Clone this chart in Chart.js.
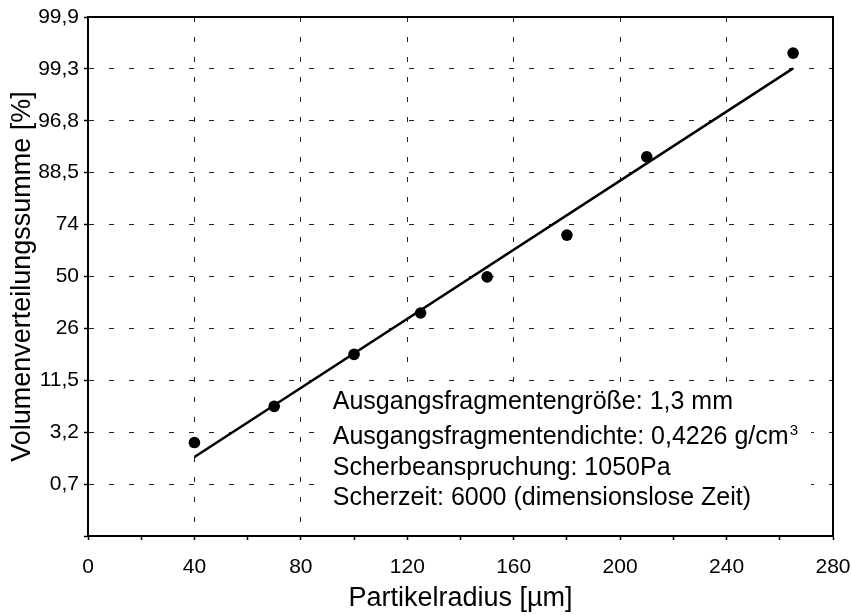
<!DOCTYPE html>
<html>
<head>
<meta charset="utf-8">
<script src="https://cdn.jsdelivr.net/npm/chart.js@4"></script>
<style>
  html, body { margin: 0; padding: 0; background: #fff; }
  #chart { display: block; }
</style>
</head>
<body>
<canvas id="chart" width="852" height="615"></canvas>
<script>
// ---------------- Data ----------------
const radius = [40, 70, 100, 125, 150, 180, 210, 265];              // Partikelradius [µm]
const volSum = [2.4, 6.1, 17.7, 33.2, 49.8, 68.9, 92.3, 99.61];     // Volumenverteilungssumme [%]

const fitRadius = [40, 265];
const fitVolSum = [1.58, 99.34];

const xTicks = [0, 20, 40, 60, 80, 100, 120, 140, 160, 180, 200, 220, 240, 260, 280];
const xTickLabels = ['0', '', '40', '', '80', '', '120', '', '160', '', '200', '', '240', '', '280'];

const yRangePct = [0.1, 99.9];
const yTickLabels = ['', '0,7', '3,2', '11,5', '26', '50', '74', '88,5', '96,8', '99,3', '99,9'];

const infoLines = [
  'Ausgangsfragmentengröße: 1,3 mm',
  'Ausgangsfragmentendichte: 0,4226 g/cm',
  'Scherbeanspruchung: 1050Pa',
  'Scherzeit: 6000 (dimensionslose Zeit)'
];

// inverse normal CDF (Acklam) -> probability paper
function probit(p) {
  const a = [-3.969683028665376e+01, 2.209460984245205e+02, -2.759285104469687e+02, 1.383577518672690e+02, -3.066479806614716e+01, 2.506628277459239e+00];
  const b = [-5.447609879822406e+01, 1.615858368580409e+02, -1.556989798598866e+02, 6.680131188771972e+01, -1.328068155288572e+01];
  const c = [-7.784894002430293e-03, -3.223964580411365e-01, -2.400758277161838e+00, -2.549671010029101e+00, 4.374664141464968e+00, 2.938163982698783e+00];
  const d = [7.784695709041462e-03, 3.224671290700398e-01, 2.445134137142996e+00, 3.754408661907416e+00];
  const pl = 0.02425;
  let q, r;
  if (p < pl) {
    q = Math.sqrt(-2 * Math.log(p));
    return (((((c[0]*q+c[1])*q+c[2])*q+c[3])*q+c[4])*q+c[5]) / ((((d[0]*q+d[1])*q+d[2])*q+d[3])*q+1);
  }
  if (p <= 1 - pl) {
    q = p - 0.5; r = q * q;
    return (((((a[0]*r+a[1])*r+a[2])*r+a[3])*r+a[4])*r+a[5])*q / (((((b[0]*r+b[1])*r+b[2])*r+b[3])*r+b[4])*r+1);
  }
  q = Math.sqrt(-2 * Math.log(1 - p));
  return -(((((c[0]*q+c[1])*q+c[2])*q+c[3])*q+c[4])*q+c[5]) / ((((d[0]*q+d[1])*q+d[2])*q+d[3])*q+1);
}

const yMin = probit(yRangePct[0] / 100);
const yMax = probit(yRangePct[1] / 100);
const yTickPos = yTickLabels.map((_, i) => yMin + i * (yMax - yMin) / (yTickLabels.length - 1));

const FONT = "'Liberation Sans', Arial, sans-serif";

// white info box + frame around the plot area
const framePlugin = {
  id: 'frame',
  beforeDatasetsDraw(chart) {
    const { ctx, chartArea: ca, scales } = chart;
    const x0 = scales.x.getPixelForValue(90.5);
    const boxTop = ca.top + 367;
    ctx.save();
    ctx.fillStyle = '#fff';
    ctx.fillRect(x0, boxTop, ca.right - 22 - x0, ca.bottom - boxTop - 1);

    ctx.fillStyle = '#000';
    ctx.textBaseline = 'alphabetic';
    ctx.textAlign = 'left';
    ctx.font = '25px ' + FONT;
    const tx = x0 + 4;
    const baselines = [ca.top + 392, ca.top + 427, ca.top + 458, ca.top + 488];
    infoLines.forEach((t, i) => ctx.fillText(t, tx, baselines[i]));
    const w = ctx.measureText(infoLines[1]).width;
    ctx.font = '15px ' + FONT;
    ctx.fillText('3', tx + w + 1, baselines[1] - 9);

    ctx.strokeStyle = '#000';
    ctx.lineWidth = 2;
    ctx.strokeRect(ca.left, ca.top, ca.right - ca.left, ca.bottom - ca.top);
    ctx.restore();
  }
};

new Chart(document.getElementById('chart'), {
  type: 'scatter',
  data: {
    datasets: [
      {
        data: radius.map((x, i) => ({ x: x, y: probit(volSum[i] / 100) })),
        backgroundColor: '#000',
        borderWidth: 0,
        pointRadius: 5.8,
        showLine: false
      },
      {
        data: fitRadius.map((x, i) => ({ x: x, y: probit(fitVolSum[i] / 100) })),
        borderColor: '#000',
        borderWidth: 2.5,
        pointRadius: 0,
        showLine: true
      }
    ]
  },
  options: {
    responsive: false,
    animation: false,
    devicePixelRatio: 1,
    layout: { padding: { left: 0, right: 19, top: 17, bottom: 0 } },
    plugins: { legend: { display: false }, tooltip: { enabled: false } },
    scales: {
      x: {
        type: 'linear',
        min: 0, max: 280,
        afterBuildTicks: (s) => { s.ticks = xTicks.map(v => ({ value: v })); },
        afterFit: (s) => { s.height = 79; s.paddingLeft = 0; s.paddingRight = 0; },
        ticks: {
          autoSkip: false,
          maxRotation: 0,
          padding: 15,
          color: '#000',
          font: { family: FONT, size: 21 },
          callback: (v, i) => xTickLabels[i]
        },
        grid: {
          color: (c) => {
            const v = c.tick ? c.tick.value : 0;
            return (v % 40 === 0 && v > 0 && v < 280) ? '#222' : 'rgba(0,0,0,0)';
          },
          lineWidth: 1,
          tickColor: '#000',
          tickLength: 4,
          tickWidth: 1.5
        },
        border: { display: true, color: '#000', width: 2, dash: [5, 15] },
        title: {
          display: true,
          text: 'Partikelradius [µm]',
          color: '#000',
          font: { family: FONT, size: 27 },
          padding: { top: 0, bottom: 0 }
        }
      },
      y: {
        type: 'linear',
        min: yMin, max: yMax,
        afterBuildTicks: (s) => { s.ticks = yTickPos.map(v => ({ value: v })); },
        afterFit: (s) => { s.width = 88; s.paddingTop = 0; s.paddingBottom = 0; },
        ticks: {
          autoSkip: false,
          padding: 5,
          color: '#000',
          font: { family: FONT, size: 21 },
          callback: (v, i) => yTickLabels[i]
        },
        grid: {
          color: (c) => (c.index > 0 && c.index < yTickLabels.length - 1) ? '#222' : 'rgba(0,0,0,0)',
          lineWidth: 1,
          tickColor: '#000',
          tickLength: 4,
          tickWidth: 1.5
        },
        border: { display: true, color: '#000', width: 2, dash: [5, 15] },
        title: {
          display: true,
          text: 'Volumenverteilungssumme [%]',
          color: '#000',
          font: { family: FONT, size: 27 },
          padding: { top: 6, bottom: 0 }
        }
      }
    }
  },
  plugins: [framePlugin]
});
</script>
</body>
</html>
